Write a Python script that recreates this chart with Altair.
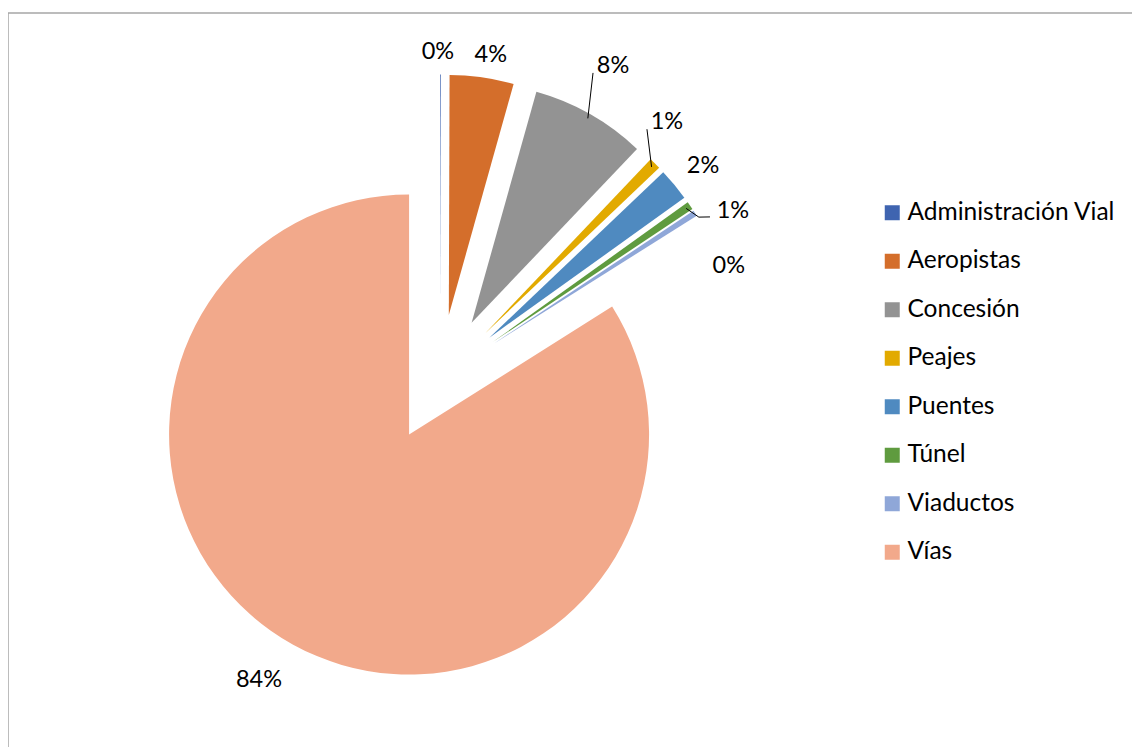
import numpy as np
import pandas as pd
import altair as alt

# ---------------- data ----------------
categories = ["Administración Vial", "Aeropistas", "Concesión", "Peajes",
              "Puentes", "Túnel", "Viaductos", "Vías"]
shares = [0.05, 4.3, 7.75, 0.8, 2.2, 0.55, 0.4, 83.95]   # percent
pct_labels = ["0%", "4%", "8%", "1%", "2%", "1%", "0%", "84%"]
colors = ["#3F64B0", "#D46E2B", "#939393", "#E2AA00",
          "#4F8AC0", "#5F9B3F", "#8FA7D8", "#F2A98B"]

# ---------------- layout ----------------
W, H = 1124, 734
R_PX = 240                 # pie radius in pixels
CX_PX, CY_PX = 432, 365.5  # pie centre inside the plot area
EXPLODE = 64 / 240         # explosion distance, in radius units
FONT = "Lato"
FS_LEGEND = 24.5
FS_LABEL = 23.5

# label nudges: (angle shift in degrees from slice mid-angle, distance in radius units)
label_nudge = {
    "Administración Vial": (-0.45, 1.360),
    "Aeropistas": (1.0, 1.365),
    "Concesión": (-0.6, 1.487),
    "Peajes": (-3.5, 1.427),
    "Puentes": (0.7, 1.408),
    "Túnel": (4.9, 1.406),
    "Viaductos": (11.6, 1.292),
    "Vías": (2.1, 1.465),
}
# leader line bend points: (angle deg, distance in radius units)
leader_pts = {
    "Concesión": [(26.6, 1.424)],
    "Peajes": [(39.7, 1.35)],
    "Túnel": [(58.06, 1.271), (59.1, 1.311)],
}

# ---------------- derived geometry ----------------
vals = np.array(shares, dtype=float)
frac = vals / vals.sum()
t1 = np.cumsum(frac)
t0 = t1 - frac
mid = (t0 + t1) / 2
ang = mid * 2 * np.pi

df = pd.DataFrame({
    "cat": categories,
    "t0": t0,
    "t1": t1,
    "cx": EXPLODE * np.sin(ang),
    "cy": EXPLODE * np.cos(ang),
    "label": pct_labels,
})
la = np.array([ang[i] + np.radians(label_nudge[c][0]) for i, c in enumerate(categories)])
ld = np.array([label_nudge[c][1] for c in categories])
df["lx"] = ld * np.sin(la)
df["ly"] = ld * np.cos(la)

segs = []
for c, pts in leader_pts.items():
    i = categories.index(c)
    start = (1 + EXPLODE - 0.02)
    px, py = start * np.sin(ang[i]), start * np.cos(ang[i])
    for (a, d) in pts:
        qx, qy = d * np.sin(np.radians(a)), d * np.cos(np.radians(a))
        segs.append({"x": px, "y": py, "x2": qx, "y2": qy})
        px, py = qx, qy
seg_df = pd.DataFrame(segs)

xs = alt.Scale(domain=[-CX_PX / R_PX, (W - CX_PX) / R_PX], nice=False, zero=False)
ys = alt.Scale(domain=[-(H - CY_PX) / R_PX, CY_PX / R_PX], nice=False, zero=False)

base = alt.Chart(df)

arcs = base.mark_arc(radius=R_PX).encode(
    x=alt.X("cx:Q", scale=xs, axis=None),
    y=alt.Y("cy:Q", scale=ys, axis=None),
    theta=alt.Theta("t0:Q", scale=alt.Scale(domain=[0, 1], range=[0, 2 * np.pi]), stack=None),
    theta2="t1:Q",
    color=alt.Color("cat:N",
                    scale=alt.Scale(domain=categories, range=colors),
                    legend=alt.Legend(title=None, orient="none", legendX=872, legendY=187.5,
                                      symbolType="square", symbolSize=225,
                                      symbolStrokeWidth=0, labelFont=FONT,
                                      labelFontSize=FS_LEGEND, labelColor="black",
                                      rowPadding=23.5, labelOffset=3, labelLimit=400,
                                      padding=0)),
)

labels = base.mark_text(font=FONT, fontSize=FS_LABEL, color="black",
                        align="center", baseline="middle").encode(
    x=alt.X("lx:Q", scale=xs, axis=None),
    y=alt.Y("ly:Q", scale=ys, axis=None),
    text="label:N",
)

leaders = alt.Chart(seg_df).mark_rule(color="black", strokeWidth=1).encode(
    x=alt.X("x:Q", scale=xs, axis=None),
    y=alt.Y("y:Q", scale=ys, axis=None),
    x2="x2:Q",
    y2="y2:Q",
)

frame_df = pd.DataFrame({"k": [0]})
frame_left = alt.Chart(frame_df).mark_rule(color="#A6A6A6", strokeWidth=1.5).encode(
    x=alt.value(0), y=alt.value(0), y2=alt.value(H + 20))
frame_top = alt.Chart(frame_df).mark_rule(color="#A6A6A6", strokeWidth=1.5).encode(
    x=alt.value(0), x2=alt.value(W), y=alt.value(0))

chart = alt.layer(frame_left, frame_top, arcs, leaders, labels).properties(
    width=W, height=H,
    autosize=alt.AutoSizeParams(type="none"),
    padding={"left": 0, "top": 5, "right": 0, "bottom": 0},
    background="white",
).configure_view(stroke=None)

chart.save("out.html", embed_options={"renderer": "svg", "actions": False})
